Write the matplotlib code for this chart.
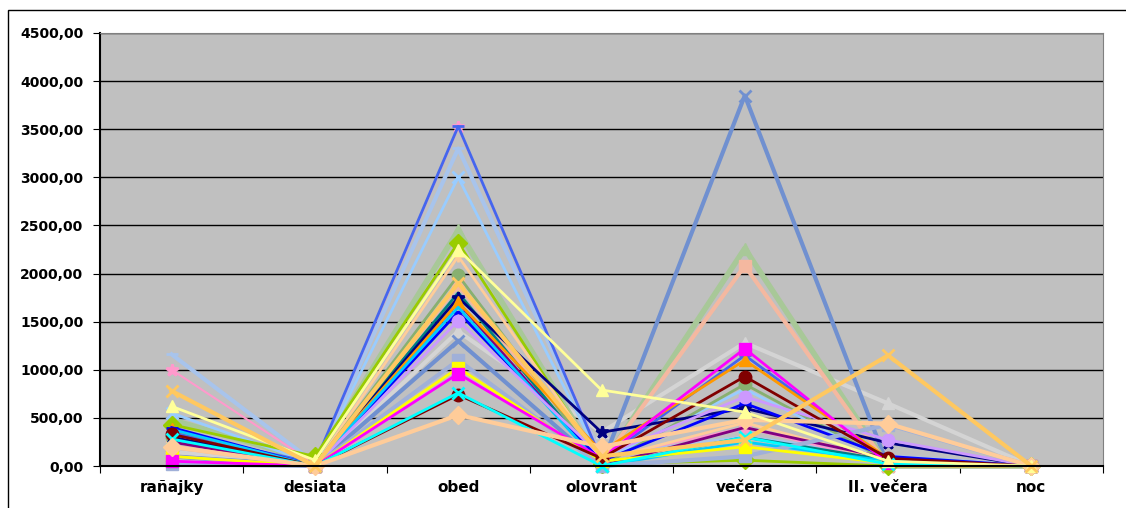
import matplotlib.pyplot as plt
from matplotlib.patches import Rectangle
from matplotlib.ticker import FuncFormatter, MultipleLocator

plt.rcParams["font.family"] = ["DejaVu Sans"]

categories = ["rañajky", "desiata", "obed", "olovrant", "večera", "II. večera", "noc"]

# one row per series: values for the seven meals
s_blue = [350, 30, 3530, 60, 1150, 60, 0]
s_pink = [1000, 20, 3520, 80, 400, 30, 0]
s_sky = [1160, 30, 3300, 100, 300, 100, 0]
s_paleblue = [550, 20, 3000, 50, 800, 50, 0]
s_lightgreen = [480, 50, 2450, 0, 2260, 0, 0]
s_lime = [430, 100, 2320, 20, 60, 0, 0]
s_tan = [250, 0, 2180, 60, 450, 50, 0]
s_green = [300, 0, 1980, 0, 850, 50, 0]
s_salmon = [200, 0, 1880, 30, 2080, 0, 0]
s_navy = [300, 0, 1750, 350, 600, 240, 0]
s_orange = [380, 0, 1700, 150, 1100, 80, 0]
s_darkblue = [400, 0, 1600, 50, 650, 100, 0]
s_cyan2 = [380, 0, 1650, 0, 250, 50, 0]
s_lavender = [100, 0, 1510, 100, 720, 270, 0]
s_gray = [150, 0, 1400, 350, 1280, 650, 0]
s_bluegray = [20, 0, 1100, 0, 100, 430, 0]
s_yellow = [100, 0, 1020, 50, 200, 30, 0]
s_magenta = [50, 0, 960, 80, 1220, 30, 0]
s_maroon = [330, 0, 740, 80, 930, 80, 0]
s_cyan = [280, 0, 760, 0, 300, 20, 0]
s_peach = [200, 0, 530, 200, 480, 440, 0]
s_lightyellow = [620, 60, 2250, 790, 560, 50, 0]
s_gold = [780, 0, 1900, 100, 270, 1150, 0]
s_slate = [100, 0, 1300, 0, 3850, 0, 0]
s_teal = [280, 0, 1800, 0, 300, 60, 0]
s_purple = [250, 0, 1700, 0, 400, 80, 0]

series = [
    (s_gray, "#d4d4d4", "^", 3),
    (s_slate, "#7090d0", "x", 3),
    (s_lightgreen, "#a8c898", "^", 4),
    (s_salmon, "#f4b8a0", "s", 3),
    (s_paleblue, "#99ccff", "x", 2),
    (s_sky, "#a8c4ec", "_", 3),
    (s_pink, "#ff99cc", "*", 1.5),
    (s_blue, "#4466ee", "_", 2),
    (s_lime, "#99cc00", "D", 2),
    (s_tan, "#ffcc99", "+", 2),
    (s_green, "#88b070", "o", 2),
    (s_teal, "#008080", None, 2),
    (s_purple, "#800080", None, 2),
    (s_navy, "#000080", "*", 2),
    (s_orange, "#ff9900", "^", 2),
    (s_darkblue, "#0000ff", "_", 2),
    (s_cyan2, "#00ccff", None, 2),
    (s_lavender, "#cc99ff", "o", 2),
    (s_bluegray, "#a0b0d8", "s", 3),
    (s_yellow, "#ffff00", "s", 2),
    (s_magenta, "#ff00ff", "s", 2),
    (s_maroon, "#800000", "o", 2),
    (s_cyan, "#00ffff", "x", 2),
    (s_peach, "#ffcc99", "D", 3),
    (s_lightyellow, "#ffff99", "^", 2),
    (s_gold, "#ffc860", "x", 3),
]

fig = plt.figure(figsize=(11.26, 5.08), dpi=100)
ax = fig.add_axes([100 / 1126, 1 - 466 / 508, 1003 / 1126, 433 / 508])
ax.set_facecolor("#c0c0c0")

x = list(range(len(categories)))
for vals, color, marker, lw in series:
    ax.plot(x, vals, color=color, lw=lw, marker=marker, markersize=9,
            markeredgewidth=2 if marker in ("x", "+", "_", "*") else 1,
            markeredgecolor=color, clip_on=False)

ax.set_ylim(0, 4500)
ax.set_xlim(-0.5, 6.5)
ax.yaxis.set_major_locator(MultipleLocator(500))
ax.yaxis.set_major_formatter(FuncFormatter(lambda v, p: f"{v:.2f}".replace(".", ",")))
ax.grid(axis="y", color="black", lw=1)
ax.set_axisbelow(True)

ax.set_xticks([i - 0.5 for i in range(len(categories) + 1)])
ax.set_xticklabels([])
ax.set_xticks(x, minor=True)
ax.set_xticklabels(categories, minor=True, fontsize=11, fontweight="bold")
ax.tick_params(axis="x", which="minor", length=0, pad=10)
ax.tick_params(axis="x", which="major", length=5, color="black")
ax.tick_params(axis="y", length=5, labelsize=10, pad=7)
for t in ax.get_yticklabels():
    t.set_fontweight("bold")

for side in ["left", "bottom"]:
    ax.spines[side].set_color("#000000")
for side in ["right", "top"]:
    ax.spines[side].set_color("#808080")
ax.spines["left"].set_linewidth(1.5)
ax.spines["bottom"].set_linewidth(1.5)

fig.patches.append(Rectangle((8 / 1126, -0.1), 1.2, 1 - 10 / 508 + 0.1,
                             transform=fig.transFigure, fill=False,
                             edgecolor="black", lw=1))

fig.savefig("out.png", dpi=100)
